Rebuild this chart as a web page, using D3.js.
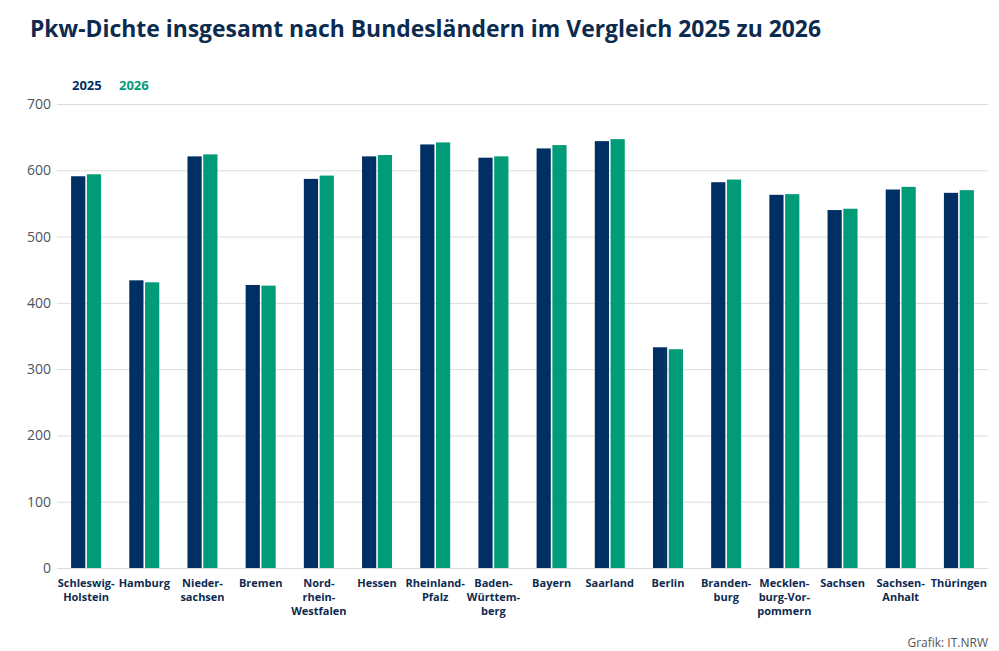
<!DOCTYPE html>
<html>
<head>
<meta charset="utf-8">
<script src="https://cdn.jsdelivr.net/npm/d3@7"></script>
<style>
  body { margin:0; background:#fff; }
  text { font-family: "Open Sans", sans-serif; }
</style>
</head>
<body>
<div id="chart-area"></div>
<script>
// Bundeslaender, lines split as in the original labels
const categories = [
  ["Schleswig-", "Holstein"], ["Hamburg"], ["Nieder-", "sachsen"], ["Bremen"],
  ["Nord-", "rhein-", "Westfalen"], ["Hessen"], ["Rheinland-", "Pfalz"],
  ["Baden-", "Württem-", "berg"], ["Bayern"], ["Saarland"], ["Berlin"],
  ["Branden-", "burg"], ["Mecklen-", "burg-Vor-", "pommern"], ["Sachsen"],
  ["Sachsen-", "Anhalt"], ["Thüringen"]
];
const years = ["2025", "2026"];
const values2025 = [591, 434, 621, 427, 587, 621, 639, 619, 633, 644, 333, 582, 563, 540, 571, 566];
const values2026 = [594, 431, 624, 426, 592, 623, 642, 621, 638, 647, 330, 586, 564, 542, 575, 570];
const yTicks = [0, 100, 200, 300, 400, 500, 600, 700];

const colors = { "2025": "#003063", "2026": "#009b77" };

const W = 999, H = 651;
const margin = { left:57, right:11, top:104, bottom:83 };
const width = W - margin.left - margin.right,
    height = H - margin.top - margin.bottom;

const svg = d3.select("#chart-area")
    .append("svg")
    .attr("width", W)
    .attr("height", H);

// title
svg.append("text")
    .attr("x", 30)
    .attr("y", 37)
    .attr("font-size", "22.9px")
    .attr("font-weight", "bold")
    .attr("fill", "#0d2a4f")
    .text("Pkw-Dichte insgesamt nach Bundesländern im Vergleich 2025 zu 2026");

// legend
svg.append("text")
    .attr("x", 72).attr("y", 90)
    .attr("font-size", "13px").attr("font-weight", "bold")
    .attr("fill", colors["2025"]).text(years[0]);
svg.append("text")
    .attr("x", 119).attr("y", 90)
    .attr("font-size", "13px").attr("font-weight", "bold")
    .attr("fill", colors["2026"]).text(years[1]);

// source
svg.append("text")
    .attr("x", 988).attr("y", 647)
    .attr("text-anchor", "end")
    .attr("font-size", "12px")
    .attr("fill", "#555")
    .text("Grafik: IT.NRW");

const g = svg.append("g")
    .attr("transform", "translate(" + margin.left + ", " + margin.top + ")");

const y = d3.scaleLinear()
    .domain([0, 700])
    .range([height, 0]);

const x = d3.scaleBand()
    .domain(d3.range(categories.length))
    .range([0, width]);

const x1 = d3.scaleBand()
    .domain(years)
    .range([x.bandwidth() / 2 - 15, x.bandwidth() / 2 + 15])
    .paddingInner(0.1);

// grid + y labels
const yAxisCall = d3.axisLeft(y)
    .tickValues(yTicks)
    .tickSize(-width)
    .tickPadding(6);
const yAx = g.append("g")
    .attr("class", "y-axis")
    .call(yAxisCall);
yAx.select(".domain").remove();
yAx.selectAll(".tick line").attr("stroke", "#dcdcdc").attr("stroke-width", 1);
yAx.selectAll(".tick text")
    .attr("font-size", "14px")
    .attr("fill", "#4a5563")
    .attr("font-family", "Open Sans, sans-serif");

// bars
const rows = categories.map(function(c, i){
    return { i: i, v: { "2025": values2025[i], "2026": values2026[i] } };
});

const groups = g.selectAll("g.grp")
    .data(rows)
    .enter()
    .append("g")
    .attr("class", "grp")
    .attr("transform", function(d){ return "translate(" + x(d.i) + ",0)"; });

groups.selectAll("rect")
    .data(function(d){ return years.map(function(k){ return { k: k, v: d.v[k] }; }); })
    .enter()
    .append("rect")
    .attr("x", function(d){ return x1(d.k); })
    .attr("y", function(d){ return y(d.v); })
    .attr("width", x1.bandwidth())
    .attr("height", function(d){ return height - y(d.v); })
    .attr("fill", function(d){ return colors[d.k]; });

// x labels
const xl = g.selectAll("text.xlab")
    .data(rows)
    .enter()
    .append("text")
    .attr("class", "xlab")
    .attr("text-anchor", "middle")
    .attr("font-size", "11px")
    .attr("font-weight", "bold")
    .attr("fill", "#0d2a4f")
    .attr("transform", function(d){ return "translate(" + (x(d.i) + x.bandwidth() / 2) + "," + (height + 19) + ")"; });

xl.selectAll("tspan")
    .data(function(d){ return categories[d.i]; })
    .enter()
    .append("tspan")
    .attr("x", 0)
    .attr("dy", function(d, j){ return j === 0 ? 0 : 14; })
    .text(function(d){ return d; });
</script>
</body>
</html>
